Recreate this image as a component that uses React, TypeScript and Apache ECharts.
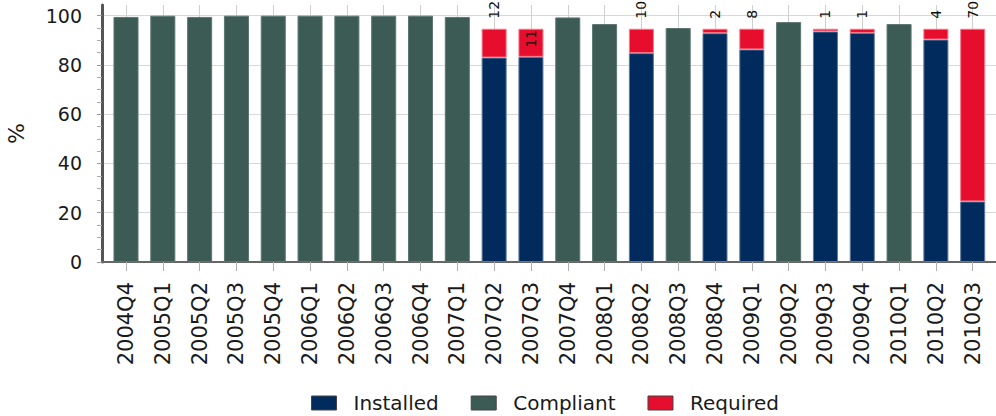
import React, { useEffect, useRef } from 'react';
import * as echarts from 'echarts';

const categories = [
  '2004Q4', '2005Q1', '2005Q2', '2005Q3', '2005Q4', '2006Q1', '2006Q2', '2006Q3',
  '2006Q4', '2007Q1', '2007Q2', '2007Q3', '2007Q4', '2008Q1', '2008Q2', '2008Q3',
  '2008Q4', '2009Q1', '2009Q2', '2009Q3', '2009Q4', '2010Q1', '2010Q2', '2010Q3',
];

const installed = [
  null, null, null, null, null, null, null, null,
  null, null, 83, 83.3, null, null, 84.8, null,
  92.9, 86.3, null, 93.6, 93, null, 90.3, 24.6,
];

const compliant = [
  99.5, 100, 99.5, 100, 100, 100, 100, 100,
  100, 99.5, null, null, 99.3, 96.6, null, 95,
  null, null, 97.4, null, null, 96.6, null, null,
];

const required = [
  null, null, null, null, null, null, null, null,
  null, null, 11.7, 11.4, null, null, 9.9, null,
  1.8, 8.4, null, 1.1, 1.7, null, 4.4, 70.1,
];

const requiredLabels = [
  '', '', '', '', '', '', '', '',
  '', '', '12', '11', '', '', '10', '',
  '2', '8', '', '1', '1', '', '4', '70',
];

const yMin = 0;
const yMax = 100;
const yStep = 20;

const FONT = '"DejaVu Sans", Verdana, sans-serif';

export default function App() {
  const ref = useRef<HTMLDivElement>(null);

  useEffect(() => {
    if (!ref.current) return;
    const chart = echarts.init(ref.current, undefined, { renderer: 'svg' });
    const plotTop = 5;
    const plotBottom = 154;
    const tickTop = 15.7;
    const extMax = yMax * (416 - plotBottom - plotTop) / (416 - plotBottom - tickTop);
    const barLeft = 107.6;
    const barRight = 4.9;
    const band = (996 - barLeft - barRight) / categories.length;

    const requiredData = required.map((v, i) => {
      if (i === 11) {
        return {
          value: v,
          label: { position: 'insideTop', distance: 1, align: 'right' },
        };
      }
      return v;
    });

    const g = (left: number, right: number, top: number) => ({
      left, right, top, bottom: plotBottom,
      containLabel: false,
      outerBoundsMode: 'none',
    });

    chart.setOption({
      animation: false,
      textStyle: { fontFamily: FONT },
      grid: [
        g(barLeft, barRight, plotTop),
        g(102, 0, plotTop),
        g(102, 0, tickTop),
        g(barLeft + band / 2, barRight + band / 2, plotTop),
      ],
      xAxis: [
        {
          gridIndex: 0,
          type: 'category',
          data: categories,
          axisLine: { show: false },
          axisTick: { show: true, alignWithLabel: true, length: 9, lineStyle: { color: '#b0b0b0', width: 1 } },
          axisLabel: { rotate: 90, margin: 20, fontSize: 21, color: '#1a1a1a', fontFamily: FONT, interval: 0 },
          splitLine: { show: false },
        },
        {
          gridIndex: 1,
          type: 'value',
          min: 0,
          max: 1,
          axisLine: { show: true, lineStyle: { color: '#666', width: 2 } },
          axisTick: { show: false },
          axisLabel: { show: false },
          splitLine: { show: false },
        },
        {
          gridIndex: 2,
          type: 'value',
          min: 0,
          max: 1,
          axisLine: { show: false },
          axisTick: { show: false },
          axisLabel: { show: false },
          splitLine: { show: false },
        },
        {
          gridIndex: 3,
          type: 'value',
          min: 0,
          max: categories.length - 1,
          interval: 1,
          axisLine: { show: false },
          axisTick: { show: false },
          axisLabel: { show: false },
          splitLine: { show: true, lineStyle: { color: '#cfcfcf', width: 1 } },
        },
      ],
      yAxis: [
        {
          gridIndex: 0,
          type: 'value',
          min: yMin,
          max: extMax,
          axisLine: { show: false },
          axisTick: { show: false },
          axisLabel: { show: false },
          splitLine: { show: false },
        },
        {
          gridIndex: 1,
          type: 'value',
          min: 0,
          max: extMax,
          name: '%',
          nameLocation: 'middle',
          nameRotate: 90,
          nameGap: 75,
          nameTextStyle: { fontSize: 22, color: '#1a1a1a', fontFamily: FONT },
          axisLine: { show: true, lineStyle: { color: '#555', width: 3 } },
          axisTick: { show: false },
          axisLabel: { show: false },
          splitLine: { show: false },
        },
        {
          gridIndex: 2,
          type: 'value',
          min: yMin,
          max: yMax,
          interval: yStep,
          axisLine: { show: false },
          axisTick: { show: true, length: 5, lineStyle: { color: '#999' } },
          minorTick: { show: true, splitNumber: 4, length: 5, lineStyle: { color: '#aaa' } },
          axisLabel: { margin: 20, fontSize: 19, color: '#1a1a1a', fontFamily: FONT },
          splitLine: { show: true, lineStyle: { color: '#d8d8d8', width: 1 } },
        },
        {
          gridIndex: 3,
          type: 'value',
          min: 0,
          max: 1,
          axisLine: { show: false },
          axisTick: { show: false },
          axisLabel: { show: false },
          splitLine: { show: false },
        },
      ],
      legend: {
        data: ['Installed', 'Compliant', 'Required'],
        left: 306,
        top: 388,
        icon: 'rect',
        itemWidth: 25,
        itemHeight: 14,
        itemGap: 32,
        itemStyle: { borderColor: '#444', borderWidth: 1 },
        textStyle: { fontSize: 20, color: '#1a1a1a', fontFamily: FONT, padding: [0, 0, 0, 12] },
      },
      series: [
        {
          name: 'Installed',
          type: 'bar',
          stack: 'total',
          xAxisIndex: 0,
          yAxisIndex: 0,
          barWidth: '68%',
          itemStyle: { color: '#002b5c', borderColor: '#5e7a9c', borderWidth: 1 },
          data: installed,
        },
        {
          name: 'Compliant',
          type: 'bar',
          stack: 'total',
          xAxisIndex: 0,
          yAxisIndex: 0,
          barWidth: '68%',
          itemStyle: { color: '#3d5b55', borderColor: '#5d7670', borderWidth: 1 },
          data: compliant,
        },
        {
          name: 'Required',
          type: 'bar',
          stack: 'total',
          xAxisIndex: 0,
          yAxisIndex: 0,
          barWidth: '68%',
          itemStyle: { color: '#e60d2d', borderColor: '#f27a8c', borderWidth: 1 },
          label: {
            show: true,
            position: 'top',
            distance: 10,
            rotate: 90,
            align: 'left',
            verticalAlign: 'middle',
            fontSize: 14,
            color: '#111',
            fontFamily: FONT,
            formatter: (p: any) => requiredLabels[p.dataIndex],
          },
          data: requiredData,
        },
      ],
    });

    return () => chart.dispose();
  }, []);

  return (
    <div
      ref={ref}
      style={{ position: 'absolute', left: 0, top: 0, width: 996, height: 416 }}
    />
  );
}
